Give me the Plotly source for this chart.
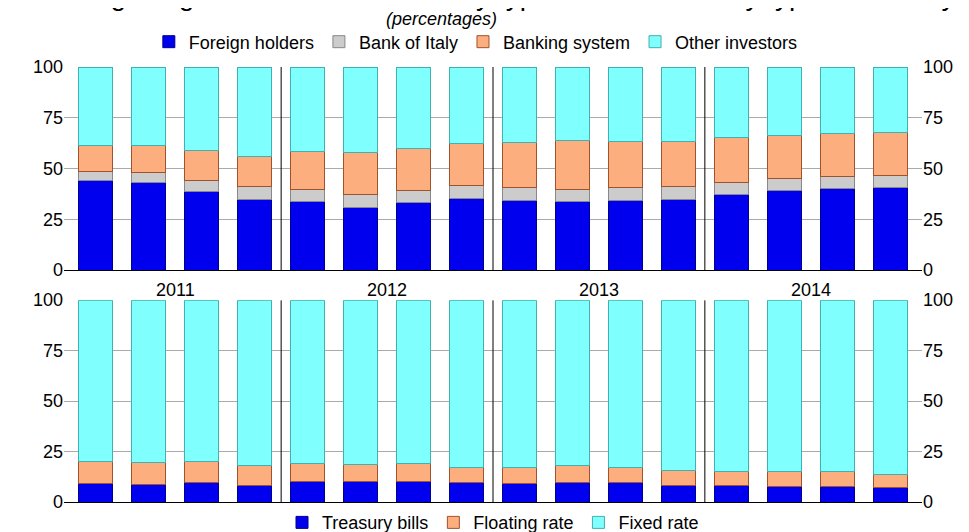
import plotly.graph_objects as go

years = ["2011", "2012", "2013", "2014"]
quarters = list(range(16))

# top panel: cumulative tops, converted to shares
foreign = [44.2, 43.3, 38.7, 35.0, 33.7, 30.9, 33.1, 35.4, 34.5, 33.7, 34.5, 35.0, 37.0, 39.3, 40.3, 40.5]
boi_top = [48.5, 48.0, 44.1, 41.1, 39.6, 37.2, 39.1, 41.6, 40.6, 39.6, 40.6, 41.1, 43.3, 45.2, 46.1, 46.5]
bank_top = [61.2, 61.2, 58.9, 55.9, 58.4, 57.9, 60.0, 62.3, 63.0, 63.8, 63.3, 63.3, 65.3, 66.4, 67.3, 67.8]
bank_italy = [round(b - f, 1) for b, f in zip(boi_top, foreign)]
banking = [round(b - a, 1) for b, a in zip(bank_top, boi_top)]
others = [round(100 - b, 1) for b in bank_top]

# bottom panel
tbills = [9.4, 8.6, 9.6, 8.4, 10.4, 10.3, 10.4, 9.6, 9.3, 9.8, 9.9, 8.3, 8.3, 7.9, 7.8, 7.0]
float_top = [20.2, 19.4, 20.2, 18.0, 18.9, 18.7, 18.9, 17.2, 17.2, 17.9, 17.2, 15.7, 14.9, 14.9, 14.9, 13.7]
floating = [round(f - t, 1) for f, t in zip(float_top, tbills)]
fixed = [round(100 - f, 1) for f in float_top]

BLUE, GREY, ORANGE, CYAN = "#0000ee", "#cccccc", "#fdae7e", "#80ffff"

fig = go.Figure()

top_series = [("Foreign holders", foreign, BLUE, "#00008b"),
              ("Bank of Italy", bank_italy, GREY, "#888888"),
              ("Banking system", banking, ORANGE, "#a0522d"),
              ("Other investors", others, CYAN, "#40b0b0")]
for name, vals, col, edge in top_series:
    fig.add_trace(go.Bar(x=quarters, y=vals, name=name, marker=dict(color=col, line=dict(color=edge, width=1)),
                         xaxis="x", yaxis="y", legend="legend", width=0.64))

bottom_series = [("Treasury bills", tbills, BLUE, "#00008b"),
                 ("Floating rate", floating, ORANGE, "#a0522d"),
                 ("Fixed rate", fixed, CYAN, "#40b0b0")]
for name, vals, col, edge in bottom_series:
    fig.add_trace(go.Bar(x=quarters, y=vals, name=name, marker=dict(color=col, line=dict(color=edge, width=1)),
                         xaxis="x2", yaxis="y3", legend="legend2", width=0.64))

# invisible traces so the right-hand axes are drawn
fig.add_trace(go.Scatter(x=[0], y=[0], xaxis="x", yaxis="y2", showlegend=False, opacity=0, hoverinfo="skip"))
fig.add_trace(go.Scatter(x=[0], y=[0], xaxis="x2", yaxis="y4", showlegend=False, opacity=0, hoverinfo="skip"))

ax_y = dict(range=[0, 100], tickvals=[0, 25, 50, 75, 100], showgrid=True, gridcolor="#aaaaaa", gridwidth=1,
            zeroline=False, ticks="", tickfont=dict(size=18))
ax_x = dict(range=[-0.6, 15.6], showticklabels=False, showgrid=False, zeroline=False,
            showline=True, linecolor="black", linewidth=1)

fig.update_layout(
    width=969, height=532,
    margin=dict(l=56, r=55, t=59, b=38, autoexpand=False),
    paper_bgcolor="white", plot_bgcolor="white",
    font=dict(family="Liberation Sans, Arial, sans-serif", color="black", size=18),
    barmode="stack",
    xaxis=dict(ax_x, domain=[0, 1], anchor="y"),
    yaxis=dict(ax_y, domain=[0.533, 1.0]),
    yaxis2=dict(ax_y, domain=[0.533, 1.0], overlaying="y", side="right", anchor="x", showgrid=False),
    xaxis2=dict(ax_x, domain=[0, 1], anchor="y3"),
    yaxis3=dict(ax_y, domain=[0.0, 0.464], anchor="x2"),
    yaxis4=dict(ax_y, domain=[0.0, 0.464], overlaying="y3", side="right", anchor="x2", showgrid=False),
    legend=dict(orientation="h", x=0.48, xanchor="center", y=1.015, yanchor="bottom", yref="paper",
                font=dict(size=18), traceorder="normal", itemwidth=30, tracegroupgap=0),
    legend2=dict(orientation="h", x=0.5, xanchor="center", y=-0.005, yanchor="top",
                 font=dict(size=18), traceorder="normal", itemwidth=30),
    showlegend=True,
)

shapes = []
for sep in [3.5, 7.5, 11.5]:
    for yr in ["y", "y3"]:
        shapes.append(dict(type="line", xref="x" if yr == "y" else "x2", yref=yr,
                           x0=sep, x1=sep, y0=0, y1=100, line=dict(color="black", width=1)))
fig.update_layout(shapes=shapes)

for i, yr in enumerate(years):
    fig.add_annotation(x=1.5 + 4 * i, y=100, xref="x2", yref="y3", text=yr, showarrow=False,
                       yanchor="bottom", yshift=-2, font=dict(size=18))
fig.add_annotation(x=0.44, y=1.0, xref="paper", yref="paper", text="<i>(percentages)</i>", showarrow=False,
                   yanchor="bottom", yshift=36, font=dict(size=18))
fig.add_annotation(x=0.5, y=1.0, xref="paper", yref="paper",
                   text="Holdings of government securities by type of holder and by type of security",
                   showarrow=False, yanchor="middle", yshift=72, font=dict(size=28))

fig.write_html("out.html")
